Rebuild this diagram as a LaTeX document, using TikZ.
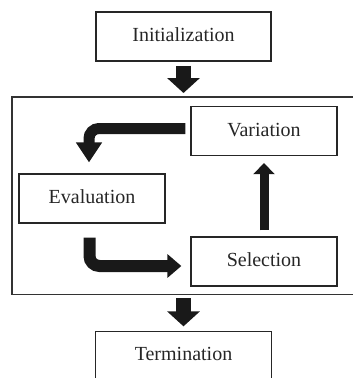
\documentclass[tikz,border=0pt]{standalone}
\usepackage{fontspec}
\setmainfont{Liberation Serif}
\usetikzlibrary{arrows.meta,calc}
\tikzset{
  box/.style={draw=black!85, line width=1.3pt, minimum width=146pt, minimum height=49pt, inner sep=0pt, text height=15pt, text depth=5pt, font=\fontsize{20}{24}\selectfont, text=black!85},
  bigbox/.style={box, minimum width=175pt},
  frame/.style={draw=black!80, line width=1.5pt},
  fatarrow/.style={line width=#1, draw=black!90, line cap=butt},
}
\begin{document}
\begin{tikzpicture}[x=1pt,y=-1pt]
\useasboundingbox (0,0) rectangle (353,378);
\node[bigbox] (init) at (183.5,36.5) {Initialization};
\node[minimum width=341pt, minimum height=197pt, inner sep=0pt, anchor=north west] (loop) at (12,97) {};
\draw[frame] (loop.north east) -- (loop.north west) -- (loop.south west) -- (loop.south east);
\node[box] (var) at (264,131) {Variation};
\node[box] (eval) at (92,198.5) {Evaluation};
\node[box] (sel) at (264,261.5) {Selection};
\node[bigbox, draw=none, minimum height=46pt] (term) at (183.5,355) {Termination};
\draw[box] ($(term.south west)+(0,2)$) -- (term.north west) -- (term.north east) -- ($(term.south east)+(0,2)$);
% arrows
\draw[fatarrow=15pt, -{Triangle[width=32pt,length=15pt]}] ($(init.south)+(0,4)$) -- ($(init.south |- loop.north)+(0,-4)$);
\draw[fatarrow=15pt, -{Triangle[width=32pt,length=15pt]}] ($(term.north |- loop.south)+(0,4)$) -- ($(term.north)+(0,-5)$);
\draw[fatarrow=11pt, rounded corners=10pt, -{Triangle[width=25pt,length=20pt]}] ($(var.west)+(-5,-2.5)$) -| ($(eval.north)+(-3,-11)$);
\draw[fatarrow=12pt, rounded corners=10pt, -{Triangle[width=23pt,length=14pt]}] ($(eval.south)+(-2.5,14)$) |- ($(sel.west)+(-9,4.5)$);
\draw[fatarrow=9pt, -{Triangle[width=21pt,length=11pt]}] ($(sel.north)+(0,-6)$) -- ($(var.south)+(0,7)$);
\end{tikzpicture}
\end{document}
